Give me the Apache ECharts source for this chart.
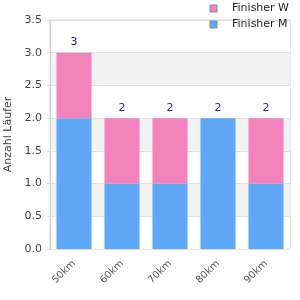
<!DOCTYPE html>
<html><head><meta charset="utf-8">
<script src="https://cdn.jsdelivr.net/npm/echarts@6/dist/echarts.min.js"></script>
<style>html,body{margin:0;padding:0;background:#fff}#c{width:300px;height:300px}</style>
</head><body><div id="c"></div>
<script>
var categories = ['50km', '60km', '70km', '80km', '90km'];
var finisherM = [2, 1, 1, 2, 1];
var finisherW = [1, 1, 1, 0, 1];
var totals = [3, 2, 2, 2, 2];
var yTicks = ['0.0','0.5','1.0','1.5','2.0','2.5','3.0','3.5'];

var chart = echarts.init(document.getElementById('c'), null, {renderer: 'canvas'});
chart.setOption({
  animation: false,
  textStyle: {fontFamily: 'DejaVu Sans'},
  grid: {left: 50, right: 10, top: 20, bottom: 51, show: true, borderColor: '#d4d4d4', borderWidth: 1,
         containLabel: false, outerBoundsMode: 'none'},
  legend: {
    orient: 'vertical', right: 6, top: -2, itemWidth: 7, itemHeight: 7, itemGap: 5,
    icon: 'rect',
    textStyle: {fontSize: 11, color: '#222', fontFamily: 'DejaVu Sans', padding: [0, 0, 0, 10]},
    data: [
      {name: 'Finisher W', itemStyle: {borderColor: '#888', borderWidth: 1}},
      {name: 'Finisher M', itemStyle: {borderColor: '#888', borderWidth: 1}}
    ]
  },
  xAxis: {
    type: 'category', data: categories,
    axisLine: {show: false}, axisTick: {show: false},
    axisLabel: {rotate: 45, fontSize: 10, color: '#555', margin: 13}
  },
  yAxis: {
    type: 'value', min: 0, max: 3.5, interval: 0.5,
    name: 'Anzahl Läufer', nameLocation: 'middle', nameGap: 35,
    nameTextStyle: {fontSize: 11, color: '#444'},
    axisLine: {show: true, lineStyle: {color: '#d4d4d4'}},
    axisTick: {show: true, length: 3, lineStyle: {color: '#d4d4d4'}},
    axisLabel: {fontSize: 11, color: '#444', formatter: function (v) { return yTicks[Math.round(v / 0.5)]; }},
    splitLine: {show: true, lineStyle: {color: '#e0e0e0'}},
    splitArea: {show: true, areaStyle: {color: ['#ffffff', '#f2f2f2']}}
  },
  series: [
    {name: 'Finisher M', type: 'bar', stack: 's', data: finisherM, barWidth: '73%',
     itemStyle: {color: '#5fa8f5'}},
    {name: 'Finisher W', type: 'bar', stack: 's', data: finisherW, barWidth: '73%',
     itemStyle: {color: '#f283bd'},
     label: {show: true, position: 'top', fontSize: 11, color: '#1f1f8a', distance: 5,
       formatter: function (p) { return totals[p.dataIndex]; }}}
  ]
});
</script></body></html>
